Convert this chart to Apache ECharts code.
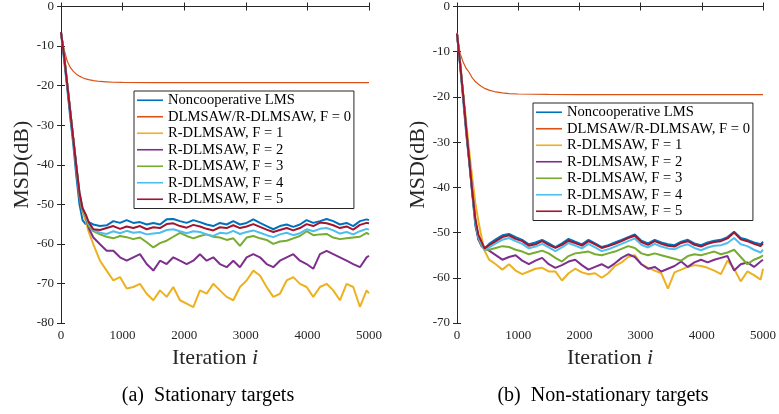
<!DOCTYPE html>
<html>
<head>
<meta charset="utf-8">
<script src="https://cdn.jsdelivr.net/npm/echarts@6/dist/echarts.min.js"></script>
<style>
  html, body { margin: 0; padding: 0; background: #fff; }
  #chart { width: 779px; height: 414px; }
</style>
</head>
<body>
<div id="chart"></div>
<script>
// iterations the curves were read at (same grid for every noisy curve)
const ITER = [0, 50, 100, 150, 200, 250, 300, 350, 400, 450,
  525, 633, 741, 850, 958, 1066, 1174, 1282, 1391, 1499, 1607, 1715, 1823, 1931,
  2040, 2148, 2256, 2364, 2472, 2580, 2689, 2797, 2905, 3013, 3122, 3230, 3338,
  3446, 3554, 3663, 3771, 3879, 3987, 4095, 4204, 4312, 4420, 4528, 4636, 4744,
  4853, 4961, 5000]
// the F = 0 curve is smooth, fewer points are enough
const F0_ITER = [0, 50, 100, 150, 200, 250, 300, 350, 400, 450, 525, 633, 741,
  850, 1000, 1500, 2000, 2500, 3000, 3500, 4000, 4500, 5000]

const NAMES = ['Noncooperative LMS', 'DLMSAW/R-DLMSAW, F = 0', 'R-DLMSAW, F = 1',
  'R-DLMSAW, F = 2', 'R-DLMSAW, F = 3', 'R-DLMSAW, F = 4', 'R-DLMSAW, F = 5']
const COLORS = ['#0072BD', '#D95319', '#EDB120', '#7E2F8E', '#77AC30', '#4DBEEE', '#A2142F']

// (a) stationary targets, MSD in dB
const a_lms = [-6.5, -13.5, -20.5, -28, -35, -43, -50, -54, -55, -54.5,
  -55.1, -55.5, -55.3, -54.25, -54.7, -54.0, -54.7, -54.5, -55.1, -54.7, -55.1, -53.8, -53.7, -54.25,
  -54.7, -54.0, -54.5, -55.1, -55.5, -54.7, -55.1, -54.25, -55.1, -54.7, -53.8, -54.7, -55.5, -56.3,
  -55.5, -55.1, -55.7, -55.1, -54.0, -54.7, -54.25, -53.7, -54.25, -55.1, -54.7, -55.5, -54.25, -53.8, -54.0]
const a_f0 = [-6.5, -10.8, -13.8, -15.4, -16.4, -17.1, -17.6, -18.0, -18.3, -18.5, -18.75, -18.95, -19.05,
  -19.15, -19.2, -19.25, -19.25, -19.25, -19.25, -19.25, -19.25, -19.25, -19.25]
const a_f1 = [-6.5, -12, -19, -26, -33.5, -41, -48, -52, -54, -57,
  -60.1, -64.25, -66.75, -69.25, -68.4, -71.3, -70.9, -70.1, -72.6, -74.25, -71.75, -73.4, -70.9, -74.25,
  -75.1, -76.0, -71.75, -72.6, -70.1, -71.75, -73.4, -74.25, -70.9, -69.25, -66.75, -68.0, -70.9, -73.4,
  -72.6, -69.25, -68.4, -70.1, -70.9, -73.4, -70.9, -70.1, -71.75, -74.25, -70.1, -70.9, -75.9, -71.75, -72.5]
const a_f2 = [-6.5, -12.5, -19.5, -26.5, -33.5, -40.5, -48, -51.5, -53, -56,
  -58.4, -60.1, -61.75, -61.75, -63.4, -64.25, -63.4, -62.6, -65.1, -66.75, -64.25, -65.1, -63.4, -64.25,
  -65.1, -64.25, -62.6, -64.25, -63.4, -65.1, -65.9, -64.25, -65.9, -63.4, -62.6, -63.4, -65.1, -65.9,
  -64.25, -63.4, -62.6, -64.25, -65.1, -66.3, -62.6, -61.75, -62.6, -63.4, -64.25, -65.1, -65.9, -63.4, -63.0]
const a_f3 = [-6.5, -12.5, -19.5, -26.5, -33.5, -40.5, -47.5, -51.5, -53, -55.5,
  -56.8, -57.6, -58.2, -58.6, -58.0, -58.3, -58.8, -58.4, -59.6, -60.9, -59.8, -59.2, -58.2, -57.2,
  -58.0, -58.6, -58.0, -57.6, -58.2, -58.4, -59.0, -58.6, -60.5, -58.4, -58.0, -58.6, -59.0, -60.0,
  -59.4, -59.2, -58.6, -58.0, -56.8, -57.8, -57.6, -57.5, -58.4, -58.8, -58.6, -58.4, -58.2, -57.2, -57.6]
const a_f4 = [-6.5, -12.5, -19.5, -26.5, -33.5, -40.5, -47, -51, -52.8, -55,
  -56.5, -57.2, -57.5, -56.8, -57.3, -56.7, -57.2, -57.0, -57.6, -57.4, -57.2, -56.5, -56.3, -56.8,
  -57.3, -56.8, -57.0, -57.6, -58.0, -57.2, -57.4, -56.7, -57.5, -57.0, -56.6, -57.2, -57.8, -58.3,
  -57.6, -57.2, -57.8, -57.3, -56.3, -56.8, -56.2, -56.0, -56.6, -57.4, -57.0, -57.6, -56.8, -56.2, -56.4]
const a_f5 = [-6.5, -12.5, -19.5, -26.5, -33.5, -40.5, -47, -51, -52.5, -54.5,
  -56.3, -56.5, -56.0, -55.5, -56.2, -55.6, -56.0, -55.5, -56.3, -55.8, -56.0, -55.0, -54.8, -55.5,
  -55.9, -55.2, -55.6, -56.2, -56.6, -55.8, -56.0, -55.3, -56.0, -55.6, -55.0, -55.7, -56.4, -57.0,
  -56.5, -56.0, -56.6, -56.0, -55.0, -55.5, -54.6, -54.8, -55.3, -56.0, -55.6, -56.4, -55.2, -54.7, -54.8]

// (b) non-stationary targets
const b_lms = [-6, -13, -20.5, -28, -34.5, -41.5, -48.5, -51.5, -52.5, -53.5,
  -52.5, -51.5, -50.6, -50.3, -51.0, -51.6, -52.6, -52.2, -51.6, -52.4, -53.2, -52.4, -51.4, -52.0,
  -52.6, -51.6, -52.4, -53.2, -52.8, -52.2, -51.6, -51.0, -50.4, -51.8, -52.4, -51.6, -52.2, -52.6,
  -52.8, -52.0, -51.6, -52.4, -52.8, -52.2, -51.8, -51.6, -51.0, -49.8, -51.2, -51.6, -52.2, -52.6, -52.0]
const b_f0 = [-5.8, -10.3, -12.3, -13.7, -14.6, -15.8, -16.6, -17.2, -17.7, -18.1, -18.5, -18.9, -19.1,
  -19.25, -19.35, -19.45, -19.5, -19.5, -19.5, -19.5, -19.5, -19.5, -19.5]
const b_f1 = [-6, -12, -19, -25.5, -32, -38, -43.5, -47.5, -51, -54,
  -56.0, -57.0, -58.2, -57.0, -58.4, -59.2, -58.6, -58.0, -57.8, -58.6, -58.6, -60.6, -59.0, -58.0,
  -58.8, -59.2, -59.0, -60.0, -59.0, -57.4, -56.6, -55.4, -55.0, -57.0, -57.8, -58.4, -59.0, -62.4,
  -58.8, -58.2, -57.6, -57.2, -57.4, -57.8, -58.4, -59.2, -56.2, -58.0, -60.8, -58.6, -59.4, -60.4, -58.0]
const b_f2 = [-6, -12.5, -19.5, -27, -34, -41, -47.5, -51.5, -53, -53.5,
  -54.0, -55.0, -56.0, -55.4, -55.0, -56.2, -57.0, -56.2, -55.6, -57.0, -57.8, -57.2, -56.4, -56.0,
  -57.2, -58.2, -57.6, -57.0, -57.8, -56.8, -55.6, -54.8, -55.4, -57.0, -58.0, -57.6, -58.6, -58.0,
  -57.4, -56.4, -57.6, -56.6, -56.0, -56.6, -56.0, -55.6, -55.2, -58.4, -57.0, -56.6, -57.6, -56.4, -56.0]
const b_f3 = [-6, -12.5, -19.5, -27, -34, -41, -47.5, -51, -52.8, -53.8,
  -53.8, -53.4, -53.0, -53.2, -53.8, -54.2, -54.8, -54.4, -54.0, -54.6, -55.6, -56.4, -55.2, -54.6,
  -54.4, -54.2, -54.8, -55.0, -54.6, -54.2, -53.6, -53.0, -53.4, -54.6, -55.0, -54.6, -55.0, -55.4,
  -55.8, -56.2, -55.2, -54.8, -55.0, -54.6, -54.2, -54.8, -54.4, -53.8, -55.4, -57.0, -56.0, -55.4, -55.0]
const b_f4 = [-6, -12.5, -19.5, -27, -34, -41, -47.5, -51, -52.5, -53.8,
  -53.3, -52.4, -51.6, -51.2, -51.9, -52.5, -53.5, -53.1, -52.5, -53.3, -54.1, -53.3, -52.3, -52.9,
  -53.5, -52.5, -53.3, -54.1, -53.7, -53.1, -52.5, -51.9, -51.3, -52.7, -53.3, -52.5, -53.1, -53.5,
  -53.7, -53.0, -52.6, -53.4, -53.9, -53.3, -52.9, -52.8, -52.3, -51.2, -52.6, -53.0, -53.8, -54.4, -53.8]
const b_f5 = [-6, -12.5, -19.5, -27, -34, -41, -47, -50.5, -52, -53.5,
  -52.8, -51.9, -51.0, -50.6, -51.4, -51.9, -52.9, -52.6, -51.9, -52.7, -53.4, -52.7, -51.8, -52.3,
  -52.9, -51.9, -52.6, -53.4, -53.0, -52.5, -51.9, -51.2, -50.7, -52.1, -52.7, -51.9, -52.5, -52.9,
  -53.1, -52.3, -51.9, -52.7, -53.1, -52.5, -52.1, -51.9, -51.3, -50.0, -51.5, -51.9, -52.5, -53.0, -52.4]

const FONT = 'Liberation Serif'
const INK = '#262626'

function pair(xs, ys) {
  return xs.map((x, k) => [x, ys[k]])
}

function makeSeries(axisIdx, curves) {
  return curves.map((ys, k) => ({
    name: NAMES[k],
    type: 'line',
    xAxisIndex: axisIdx,
    yAxisIndex: axisIdx,
    symbol: 'none',
    silent: true,
    data: pair(k === 1 ? F0_ITER : ITER, ys),
    lineStyle: { color: COLORS[k], width: k === 1 ? 1.2 : 2 },
    itemStyle: { color: COLORS[k] }
  }))
}

function xAxes(grid) {
  return [
    {
      gridIndex: grid, type: 'value', min: 0, max: 5000, interval: 1000,
      name: 'Iteration {it|i}', nameLocation: 'middle', nameGap: 22,
      nameTextStyle: { fontFamily: FONT, fontSize: 22, color: INK, rich: { it: { fontFamily: FONT, fontSize: 22, fontStyle: 'italic', color: INK } } },
      axisLine: { lineStyle: { color: INK, width: 1 } },
      axisTick: { inside: true, length: 4, lineStyle: { color: INK } },
      axisLabel: { fontFamily: FONT, fontSize: 13, color: INK, margin: 6, formatter: v => String(v) },
      splitLine: { show: false }
    },
    {
      gridIndex: grid, type: 'value', min: 0, max: 5000, interval: 1000, position: 'top',
      axisLine: { lineStyle: { color: INK, width: 1 } },
      axisTick: { inside: true, length: 4, lineStyle: { color: INK } },
      axisLabel: { show: false },
      splitLine: { show: false }
    }
  ]
}

function yAxes(grid, min) {
  return [
    {
      gridIndex: grid, type: 'value', min: min, max: 0, interval: 10,
      name: 'MSD(dB)', nameLocation: 'middle', nameGap: 28, nameRotate: 90,
      nameTextStyle: { fontFamily: FONT, fontSize: 22, color: INK },
      axisLine: { lineStyle: { color: INK, width: 1 } },
      axisTick: { inside: true, length: 4, lineStyle: { color: INK } },
      axisLabel: { fontFamily: FONT, fontSize: 13, color: INK, margin: 7 },
      splitLine: { show: false }
    },
    {
      gridIndex: grid, type: 'value', min: min, max: 0, interval: 10, position: 'right',
      axisLine: { lineStyle: { color: INK, width: 1 } },
      axisTick: { inside: true, length: 4, lineStyle: { color: INK } },
      axisLabel: { show: false },
      splitLine: { show: false }
    }
  ]
}

function legendAt(left, top) {
  return {
    orient: 'vertical', left: left, top: top,
    data: NAMES,
    icon: 'rect',
    padding: [1, 3, 1, 3],
    itemGap: 0, itemWidth: 26, itemHeight: 1.6,
    borderColor: INK, borderWidth: 1, backgroundColor: '#fff',
    selectedMode: false,
    textStyle: { fontFamily: FONT, fontSize: 14.6, color: '#000', lineHeight: 16.5 }
  }
}

const chart = echarts.init(document.getElementById('chart'), null, { renderer: 'canvas' })

// real axes are index 0 (left panel) and 2 (right panel), 1 and 3 are the box mirrors
const seriesA = makeSeries(0, [a_lms, a_f0, a_f1, a_f2, a_f3, a_f4, a_f5])
const seriesB = makeSeries(2, [b_lms, b_f0, b_f1, b_f2, b_f3, b_f4, b_f5])

chart.setOption({
  animation: false,
  backgroundColor: '#fff',
  grid: [
    { left: 61, top: 3, width: 308, height: 320 },
    { left: 457, top: 3, width: 308, height: 320 }
  ],
  xAxis: [...xAxes(0), ...xAxes(1)],
  yAxis: [...yAxes(0, -80), ...yAxes(1, -70)],
  legend: [legendAt(134, 91), legendAt(533, 103)],
  series: [...seriesA, ...seriesB],
  graphic: [
    { type: 'text', x: 208, y: 386, style: { text: '(a)  Stationary targets', font: '20px "Liberation Serif"', fill: '#000', textAlign: 'center' } },
    { type: 'text', x: 603, y: 386, style: { text: '(b)  Non-stationary targets', font: '20px "Liberation Serif"', fill: '#000', textAlign: 'center' } }
  ]
})
</script>
</body>
</html>
